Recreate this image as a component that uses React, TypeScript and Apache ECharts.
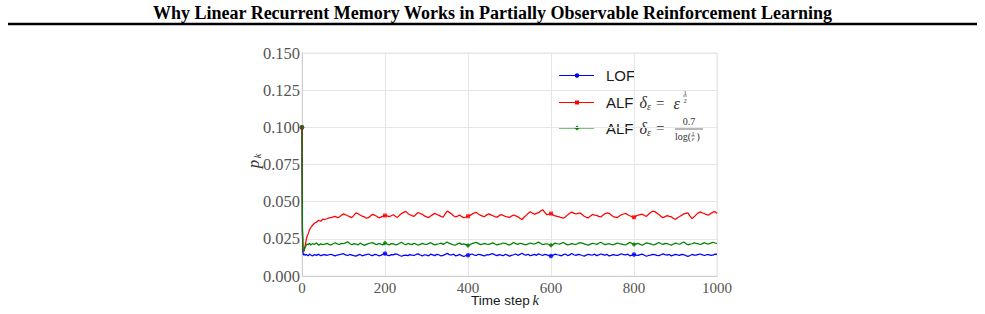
import React, { useEffect, useRef } from "react";
import * as echarts from "echarts";

// Time steps: dense at the start where the curves drop, then every 5 steps.
const K_EARLY = [0, 1, 2, 3, 4, 5, 6, 8, 10, 12, 15, 18, 21, 25, 30, 35, 40, 45, 50];
const K_LATE = Array.from({ length: 190 }, (_, i) => 55 + 5 * i);
const STEPS = [...K_EARLY, ...K_LATE];

const LOF = [
  0.1, 0.03, 0.017, 0.0145, 0.014, 0.015, 0.0145, 0.0138, 0.0146, 0.0142,
  0.0136, 0.0148, 0.0141, 0.0135, 0.0144, 0.0139, 0.0147, 0.0136, 0.0142,
  0.0144, 0.0139, 0.0143, 0.0146, 0.014, 0.0135, 0.0141, 0.0143, 0.0147, 0.015,
  0.0142, 0.0138, 0.0145, 0.0141, 0.0137, 0.0134, 0.014, 0.0145, 0.0136, 0.014,
  0.0144, 0.0148, 0.0141, 0.0137, 0.0145, 0.0143, 0.0136, 0.0139, 0.0146, 0.0151,
  0.0141, 0.0136, 0.0144, 0.0142, 0.0149, 0.0146, 0.0138, 0.0133, 0.0139, 0.0141,
  0.0137, 0.0144, 0.014, 0.0138, 0.0145, 0.0149, 0.0141, 0.0135, 0.0143, 0.014,
  0.0136, 0.0147, 0.0142, 0.0137, 0.0146, 0.0143, 0.0135, 0.0139, 0.0145, 0.0152,
  0.0144, 0.0141, 0.0147, 0.0136, 0.0139, 0.0145, 0.0137, 0.0131, 0.0138, 0.014,
  0.0144, 0.0148, 0.0141, 0.0138, 0.0146, 0.0144, 0.0139, 0.0135, 0.0143, 0.0142,
  0.0147, 0.015, 0.0142, 0.0137, 0.0144, 0.0141, 0.0136, 0.0146, 0.014, 0.0134,
  0.0139, 0.0143, 0.0148, 0.0139, 0.0145, 0.0153, 0.0144, 0.014, 0.0146, 0.0136,
  0.0141, 0.0145, 0.0139, 0.0149, 0.0143, 0.0138, 0.0146, 0.0142, 0.0137, 0.0135,
  0.014, 0.0147, 0.0143, 0.014, 0.0136, 0.0144, 0.0148, 0.0137, 0.0142, 0.0151,
  0.0143, 0.0139, 0.0145, 0.0143, 0.0138, 0.0134, 0.014, 0.0146, 0.0142, 0.0141,
  0.0147, 0.0137, 0.0142, 0.0148, 0.0144, 0.014, 0.0145, 0.0135, 0.0139, 0.0144,
  0.0141, 0.0138, 0.0144, 0.015, 0.0143, 0.0142, 0.0147, 0.0136, 0.014, 0.0145,
  0.0141, 0.0139, 0.0144, 0.0147, 0.014, 0.0133, 0.0138, 0.0141, 0.0146, 0.0144,
  0.0139, 0.0137, 0.0143, 0.0149, 0.0144, 0.014, 0.0145, 0.0135, 0.0141, 0.0146,
  0.0142, 0.0139, 0.0145, 0.0143, 0.0137, 0.0132, 0.0138, 0.0145, 0.014, 0.0141,
  0.0146, 0.0148, 0.0142, 0.0138, 0.0143, 0.0144, 0.0139, 0.014, 0.0147, 0.0146,
];

const ALF_SQRT = [
  0.1, 0.032, 0.018, 0.0165, 0.0163, 0.0168, 0.0185, 0.021, 0.024, 0.0265,
  0.0285, 0.031, 0.0325, 0.034, 0.0355, 0.0362, 0.0375, 0.0368, 0.0382,
  0.038, 0.0385, 0.0391, 0.0392, 0.0398, 0.0401, 0.0393, 0.0396, 0.0409, 0.0418,
  0.0412, 0.0405, 0.0399, 0.0393, 0.0408, 0.0425, 0.0419, 0.041, 0.0403, 0.0398,
  0.0389, 0.0392, 0.0404, 0.0415, 0.0409, 0.0402, 0.0391, 0.0396, 0.0403, 0.0407,
  0.0404, 0.0399, 0.0405, 0.0412, 0.0402, 0.0394, 0.0408, 0.042, 0.0428, 0.0435,
  0.0421, 0.0412, 0.0406, 0.0401, 0.0415, 0.0427, 0.042, 0.0415, 0.0404, 0.0398,
  0.0393, 0.0404, 0.0413, 0.0421, 0.0414, 0.0408, 0.0401, 0.0395, 0.0418, 0.0437,
  0.0428, 0.0419, 0.0405, 0.0397, 0.0403, 0.041, 0.0399, 0.0392, 0.0397, 0.0402,
  0.0408, 0.0416, 0.0424, 0.0428, 0.0417, 0.0409, 0.0403, 0.04, 0.0411, 0.0418,
  0.0411, 0.0405, 0.0399, 0.0396, 0.0406, 0.0413, 0.0407, 0.0401, 0.0397, 0.0394,
  0.0403, 0.041, 0.0404, 0.0399, 0.0388, 0.038, 0.0395, 0.0408, 0.0421, 0.0432,
  0.0424, 0.0415, 0.0421, 0.0426, 0.0437, 0.0446, 0.0428, 0.0412, 0.0416, 0.042,
  0.0411, 0.0404, 0.0401, 0.0398, 0.0392, 0.0389, 0.0398, 0.0411, 0.0422, 0.043,
  0.0423, 0.0417, 0.0421, 0.0424, 0.0413, 0.0402, 0.0395, 0.0391, 0.0403, 0.0414,
  0.041, 0.0408, 0.0401, 0.0397, 0.0409, 0.0419, 0.0424, 0.0422, 0.041, 0.04,
  0.0396, 0.0393, 0.0403, 0.0412, 0.0417, 0.0421, 0.0412, 0.0405, 0.0399, 0.0395,
  0.0403, 0.041, 0.0413, 0.0416, 0.0407, 0.0401, 0.0415, 0.0427, 0.0436, 0.0433,
  0.0423, 0.0414, 0.0401, 0.0392, 0.0399, 0.0406, 0.0401, 0.0398, 0.0387, 0.0381,
  0.0392, 0.04, 0.0409, 0.0418, 0.0421, 0.0424, 0.0403, 0.0386, 0.0398, 0.0413,
  0.0425, 0.0431, 0.0424, 0.0419, 0.0413, 0.041, 0.0421, 0.0429, 0.0433, 0.042,
];

const ALF_LOG = [
  0.1, 0.034, 0.019, 0.0165, 0.0168, 0.0172, 0.018, 0.0195, 0.0205, 0.0215,
  0.021, 0.0222, 0.0208, 0.0218, 0.0212, 0.0223, 0.0207, 0.0216, 0.0211,
  0.0214, 0.0219, 0.0213, 0.0208, 0.0217, 0.0224, 0.0216, 0.0212, 0.022, 0.0217,
  0.0223, 0.023, 0.0219, 0.021, 0.0218, 0.0215, 0.0209, 0.0221, 0.0214, 0.0206,
  0.0213, 0.0218, 0.0222, 0.0225, 0.0216, 0.0211, 0.0219, 0.0214, 0.0209, 0.0222,
  0.0215, 0.0209, 0.0218, 0.0216, 0.021, 0.0213, 0.022, 0.0227, 0.0217, 0.021,
  0.0219, 0.0215, 0.0211, 0.022, 0.0214, 0.0207, 0.0213, 0.0219, 0.0215, 0.0212,
  0.0218, 0.0224, 0.0216, 0.0209, 0.0214, 0.0217, 0.0221, 0.0213, 0.022, 0.0229,
  0.0219, 0.0214, 0.021, 0.0208, 0.0216, 0.0221, 0.0213, 0.0216, 0.0211, 0.0205,
  0.0212, 0.0218, 0.0223, 0.0226, 0.0218, 0.0211, 0.0215, 0.0219, 0.0214, 0.0212,
  0.0218, 0.0223, 0.0215, 0.0209, 0.0214, 0.0216, 0.0222, 0.022, 0.0213, 0.0208,
  0.0216, 0.0225, 0.0218, 0.0213, 0.022, 0.0218, 0.0212, 0.021, 0.0216, 0.0222,
  0.0218, 0.0215, 0.0221, 0.0228, 0.0219, 0.0211, 0.0214, 0.0217, 0.0212, 0.0207,
  0.0213, 0.0221, 0.0217, 0.0214, 0.022, 0.0226, 0.0216, 0.0209, 0.0213, 0.0218,
  0.0214, 0.0212, 0.0219, 0.0224, 0.0221, 0.0216, 0.0211, 0.0208, 0.0214, 0.022,
  0.0217, 0.0213, 0.022, 0.0227, 0.0219, 0.0211, 0.0215, 0.0217, 0.0213, 0.021,
  0.0216, 0.0222, 0.0218, 0.0215, 0.0211, 0.0209, 0.0218, 0.0226, 0.0219, 0.0212,
  0.0216, 0.0219, 0.0213, 0.0207, 0.0215, 0.0223, 0.0219, 0.0216, 0.021, 0.0211,
  0.0218, 0.0225, 0.0217, 0.0213, 0.0219, 0.0218, 0.0212, 0.0208, 0.0215, 0.0221,
  0.0217, 0.0214, 0.0222, 0.0229, 0.0218, 0.021, 0.0214, 0.0217, 0.0223, 0.022,
  0.0216, 0.0212, 0.0218, 0.0224, 0.0217, 0.0215, 0.0221, 0.0227, 0.0222, 0.0219,
];

// Markers are placed every 200 steps along each curve.
const MARK_STEPS = [0, 200, 400, 600, 800];

const TITLE = "Why Linear Recurrent Memory Works in Partially Observable Reinforcement Learning";

const SERIES = [
  { name: "LOF", values: LOF, color: "#0000ff", symbol: "circle", size: 4.5 },
  { name: "ALF sqrt", values: ALF_SQRT, color: "#ff0000", symbol: "rect", size: 4 },
  { name: "ALF log", values: ALF_LOG, color: "#008000", symbol: "diamond", size: 5 },
];

const SERIF = "'Liberation Serif', 'DejaVu Serif', serif";
const SANS = "'Liberation Sans', Arial, sans-serif";
const MATH = "#333333";

function legendRow(y: number, color: string, symbol: string, size: number) {
  const marker =
    symbol === "rect"
      ? { type: "rect", shape: { x: 577 - size / 2, y: y - size / 2, width: size, height: size }, style: { fill: color } }
      : symbol === "diamond"
      ? {
          type: "polygon",
          shape: { points: [[577, y - size / 2], [577 + size / 2, y], [577, y + size / 2], [577 - size / 2, y]] },
          style: { fill: color },
        }
      : { type: "circle", shape: { cx: 577, cy: y, r: size / 2 }, style: { fill: color } };
  return [
    { type: "line", shape: { x1: 559, y1: y, x2: 594, y2: y }, style: { stroke: color, lineWidth: 1.2 } },
    marker,
  ];
}

function txt(x: number, y: number, text: string, size: number, opts: any = {}) {
  return {
    type: "text",
    x,
    y,
    style: {
      text,
      fontSize: size,
      fontFamily: opts.family || SERIF,
      fontStyle: opts.italic ? "italic" : "normal",
      fontWeight: opts.bold ? "bold" : "normal",
      fill: opts.color || MATH,
      align: opts.align || "left",
      verticalAlign: "middle",
    },
  };
}

// "ALF δ_ε =" shared by both ALF entries
function deltaEq(y: number) {
  return [
    txt(606, y, "ALF", 15, { family: SANS, color: "#1a1a1a" }),
    txt(639.5, y, "δ", 16, { italic: true }),
    txt(647, y + 4, "ε", 10, { italic: true }),
    txt(656, y, "=", 15),
  ];
}

export default function App() {
  const ref = useRef<HTMLDivElement>(null);

  useEffect(() => {
    if (!ref.current) return;
    const chart = echarts.init(ref.current, null, { renderer: "svg" });

    const lineSeries = SERIES.map((s) => ({
      type: "line",
      name: s.name,
      data: STEPS.map((k, i) => [k, s.values[i]]),
      symbol: "none",
      lineStyle: { color: s.color, width: 1.25 },
      itemStyle: { color: s.color },
      z: 3,
    }));
    const markerSeries = SERIES.map((s) => ({
      type: "scatter",
      name: s.name + " marks",
      data: MARK_STEPS.map((k) => [k, s.values[STEPS.indexOf(k)]]),
      symbol: s.symbol,
      symbolSize: s.size,
      itemStyle: { color: s.color },
      z: 4,
    }));

    const row1 = 75.5;
    const row2 = 102.5;
    const row3 = 128;

    chart.setOption({
      animation: false,
      backgroundColor: "#ffffff",
      grid: {
        left: 302,
        top: 53,
        width: 415,
        height: 223,
        show: true,
        borderColor: "#e6e6e6",
        borderWidth: 1,
      },
      xAxis: {
        type: "value",
        min: 0,
        max: 1000,
        interval: 200,
        axisLine: { show: true, lineStyle: { color: "#cfcfcf", width: 1 } },
        axisTick: { show: false },
        splitLine: { show: true, lineStyle: { color: "#e6e6e6", width: 1 } },
        axisLabel: {
          fontFamily: SERIF,
          fontSize: 15,
          color: "#555555",
          margin: 4,
          formatter: (v: number) => String(v),
        },
      },
      yAxis: {
        type: "value",
        min: 0,
        max: 0.15,
        interval: 0.025,
        axisLine: { show: true, lineStyle: { color: "#cfcfcf", width: 1 } },
        axisTick: { show: false },
        splitLine: { show: true, lineStyle: { color: "#e6e6e6", width: 1 } },
        axisLabel: {
          fontFamily: SERIF,
          fontSize: 16.5,
          color: "#555555",
          margin: 2,
          formatter: (v: number) => v.toFixed(3),
        },
      },
      series: [...lineSeries, ...markerSeries],
      graphic: [
        txt(492.5, 12.5, TITLE, 18, { bold: true, color: "#000000", align: "center" }),
        { type: "line", shape: { x1: 8, y1: 24, x2: 977, y2: 24 }, style: { stroke: "#000", lineWidth: 2.5 } },
        // axis titles
        txt(471, 300, "Time step", 13.5, { family: SANS, color: "#1a1a1a" }),
        txt(532.5, 300, "k", 14.5, { italic: true, color: "#222" }),
        {
          type: "group",
          x: 253,
          y: 161,
          rotation: Math.PI / 2,
          children: [
            txt(-3, 0, "p", 17, { italic: true, color: "#333", align: "center" }),
            txt(5, 4, "k", 10, { italic: true, color: "#333", align: "center" }),
          ],
        },
        // legend
        ...legendRow(row1, "#0000ff", "circle", 4.5),
        txt(606, row1, "LOF", 15, { family: SANS, color: "#1a1a1a" }),
        ...legendRow(row2, "#ff0000", "rect", 4),
        ...deltaEq(row2),
        txt(673.5, row2 + 1, "ε", 16.5, { italic: true }),
        txt(685, row2 - 10.5, "1", 6.5, { align: "center" }),
        { type: "line", shape: { x1: 683, y1: row2 - 6.5, x2: 687, y2: row2 - 6.5 }, style: { stroke: MATH, lineWidth: 0.6 } },
        txt(685, row2 - 2.5, "2", 6.5, { align: "center" }),
        ...legendRow(row3, "#008000", "diamond", 5),
        ...deltaEq(row3),
        txt(689, row3 - 6.5, "0.7", 10, { align: "center" }),
        { type: "line", shape: { x1: 675, y1: row3 + 1, x2: 703, y2: row3 + 1 }, style: { stroke: MATH, lineWidth: 0.7 } },
        txt(675, row3 + 8.5, "log(", 10),
        txt(693, row3 + 5.5, "1", 6, { align: "center" }),
        { type: "line", shape: { x1: 691, y1: row3 + 8, x2: 695, y2: row3 + 8 }, style: { stroke: MATH, lineWidth: 0.5 } },
        txt(693, row3 + 11, "ε", 6, { italic: true, align: "center" }),
        txt(696.5, row3 + 8.5, ")", 10),
      ],
    });

    return () => chart.dispose();
  }, []);

  return (
    <div
      ref={ref}
      style={{ position: "fixed", left: 0, top: 0, width: 985, height: 314, background: "#fff" }}
    />
  );
}
